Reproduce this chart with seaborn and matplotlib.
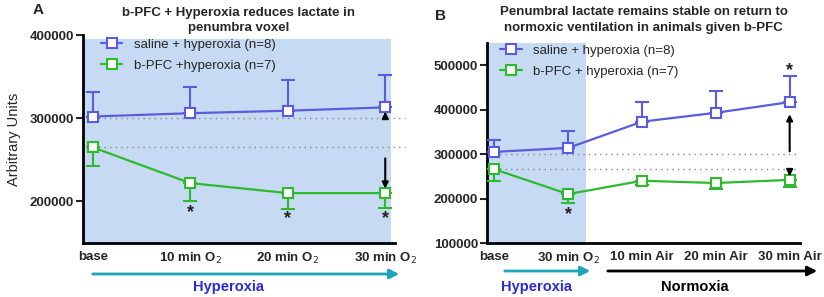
import matplotlib
matplotlib.use("Agg")
import matplotlib.pyplot as plt
import seaborn as sns
import numpy as np
from matplotlib.patches import FancyArrowPatch

sns.set_style("ticks")
plt.rcParams["font.family"] = ["Liberation Sans", "DejaVu Sans"]

# panel A data
times_a = ["base", "10 min O$_2$", "20 min O$_2$", "30 min O$_2$"]
saline_a = [302000, 306000, 309000, 313000]
saline_a_err = [29000, 32000, 37000, 39000]
bpfc_a = [265000, 222000, 210000, 210000]
bpfc_a_err = [23000, 21000, 19000, 18000]

# panel B data
times_b = ["base", "30 min O$_2$", "10 min Air", "20 min Air", "30 min Air"]
saline_b = [305000, 314000, 373000, 393000, 417000]
saline_b_err = [27000, 38000, 45000, 50000, 58000]
bpfc_b = [266000, 210000, 240000, 235000, 242000]
bpfc_b_err = [26000, 20000, 9000, 13000, 16000]

BLUE = "#5b5be0"
GREEN = "#2dbb2d"
SHADE = "#c6daf3"
TEAL = "#1ea3b8"
TXTBLUE = "#2a2ad6"

fig = plt.figure(figsize=(8.24, 2.97), dpi=100)
ax_a = fig.add_axes([83 / 824, 1 - 243 / 297, 312 / 824, 208 / 297])
ax_b = fig.add_axes([487 / 824, 1 - 243 / 297, 313 / 824, 200 / 297])


def draw_panel(ax, times, sal, sal_err, pfc, pfc_err, labels):
    x = np.arange(len(times))
    for vals, err, col, lab, sign in [(sal, sal_err, BLUE, labels[0], 1),
                                      (pfc, pfc_err, GREEN, labels[1], -1)]:
        if sign > 0:
            yerr = [np.zeros(len(err)), err]
        else:
            yerr = [err, np.zeros(len(err))]
        ax.errorbar(x, vals, yerr=yerr, fmt="none", ecolor=col, elinewidth=1.5,
                    capsize=5, capthick=1.5, zorder=3)
        sns.lineplot(x=x, y=vals, ax=ax, color=col, lw=1.6, marker="s", markersize=7,
                     markerfacecolor="white", markeredgecolor=col, markeredgewidth=1.5,
                     label=lab, zorder=4)
    ax.set_xticks(x)
    ax.set_xticklabels(times, fontweight="bold", fontsize=9.5)
    ax.tick_params(axis="x", length=0, pad=6)
    ax.tick_params(axis="y", length=5, width=1.5, labelsize=9.5, direction="out", pad=1.5)
    for lbl in ax.get_yticklabels():
        lbl.set_fontweight("bold")
    for s in ["top", "right"]:
        ax.spines[s].set_visible(False)
    for s in ["left", "bottom"]:
        ax.spines[s].set_linewidth(2)
        ax.spines[s].set_color("black")
    ax.set_xlabel("")
    ax.set_ylabel("")


def ref_lines(ax, sal0, pfc0, xend):
    for v in [sal0, pfc0]:
        ax.plot([0, xend], [v, v], ls=(0, (1, 3)), color="#888888", lw=1, clip_on=False, zorder=2)


def arrow(ax, x, y0, y1):
    ax.annotate("", xy=(x, y1), xytext=(x, y0),
                arrowprops=dict(arrowstyle="-|>", color="black", lw=1.5, mutation_scale=9),
                zorder=5)


def star(ax, x, y):
    ax.text(x, y, "*", ha="center", va="center", fontsize=13, fontweight="bold", color="#222222")


# ---- panel A
draw_panel(ax_a, times_a, saline_a, saline_a_err, bpfc_a, bpfc_a_err,
           ["saline + hyperoxia (n=8)", "b-PFC +hyperoxia (n=7)"])
ax_a.set_xlim(-0.1, 3.1)
ax_a.set_ylim(150000, 400000)
ax_a.set_yticks([200000, 300000, 400000])
ax_a.axvspan(-0.1, 3.06, ymax=0.98, color=SHADE, zorder=0, lw=0)
ref_lines(ax_a, 300000, bpfc_a[0], 3.2)
arrow(ax_a, 3, 300000, saline_a[3] - 2000)
arrow(ax_a, 3, 255000, bpfc_a[3] + 2000)
for i, y in zip([1, 2, 3], [186000, 179000, 179000]):
    star(ax_a, i, y)
ax_a.legend(loc="upper left", bbox_to_anchor=(0.02, 1.04), frameon=False, fontsize=9.5,
            handlelength=1.6, handletextpad=0.9, labelspacing=0.65)
ax_a.set_ylabel("Arbitrary Units", fontsize=10.5, labelpad=6)
ax_a.set_title("b-PFC + Hyperoxia reduces lactate in\npenumbra voxel",
               fontsize=9.5, fontweight="bold", pad=3, linespacing=1.35)

# ---- panel B
draw_panel(ax_b, times_b, saline_b, saline_b_err, bpfc_b, bpfc_b_err,
           ["saline + hyperoxia (n=8)", "b-PFC + hyperoxia (n=7)"])
ax_b.set_xlim(-0.1, 4.14)
ax_b.set_ylim(100000, 550000)
ax_b.set_yticks([100000, 200000, 300000, 400000, 500000])
ax_b.axvspan(-0.1, 1.24, color=SHADE, zorder=0, lw=0)
ref_lines(ax_b, 300000, bpfc_b[0], 4.1)
arrow(ax_b, 4, 300000, 396000)
arrow(ax_b, 4, 264000, 244000)
star(ax_b, 1, 163000)
star(ax_b, 4, 487000)
ax_b.legend(loc="upper left", bbox_to_anchor=(0.005, 1.05), frameon=False, fontsize=9.5,
            handlelength=1.6, handletextpad=0.9, labelspacing=0.65)
ax_b.set_title("Penumbral lactate remains stable on return to\nnormoxic ventilation in animals given b-PFC",
               fontsize=9.5, fontweight="bold", pad=9, linespacing=1.35)

# phase arrows under the x axes (figure pixel coords)
def fig_arrow(x0, x1, y, col):
    p = FancyArrowPatch((x0 / 824, 1 - y / 297), (x1 / 824, 1 - y / 297),
                        transform=fig.transFigure, arrowstyle="-|>", color=col,
                        lw=2, mutation_scale=14)
    fig.add_artist(p)


fig_arrow(90, 402, 274, TEAL)
fig.text(229 / 824, 1 - 287 / 297, "Hyperoxia", color=TXTBLUE, fontsize=10.5,
         fontweight="bold", ha="center", va="center")
fig_arrow(502, 593, 271, TEAL)
fig.text(537 / 824, 1 - 287 / 297, "Hyperoxia", color=TXTBLUE, fontsize=10.5,
         fontweight="bold", ha="center", va="center")
fig_arrow(605, 820, 271, "black")
fig.text(695 / 824, 1 - 287 / 297, "Normoxia", color="black", fontsize=10.5,
         fontweight="bold", ha="center", va="center")

fig.text(38 / 824, 1 - 10 / 297, "A", fontsize=11, fontweight="bold", ha="center", va="center")
fig.text(440 / 824, 1 - 16 / 297, "B", fontsize=11, fontweight="bold", ha="center", va="center")

fig.savefig("out.png", dpi=100)
